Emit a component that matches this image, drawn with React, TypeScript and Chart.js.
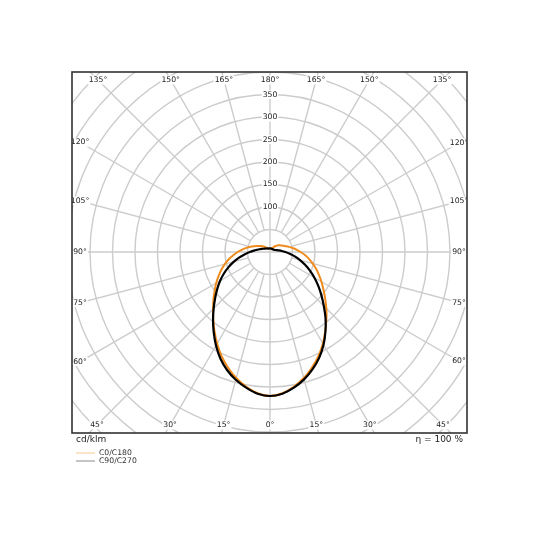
import { useEffect, useRef } from "react";
import { Chart, registerables } from "chart.js";

Chart.register(...registerables);

// Gamma angles (degrees from nadir)
const GAMMA = [0, 5, 10, 15, 20, 25, 30, 35, 40, 45, 50, 55, 60, 65, 70, 75, 80, 85, 90, 95, 100, 105, 110, 115, 120, 125, 130, 135, 140, 145, 150, 155, 160, 165, 170, 175, 180];

// Luminous intensity, cd/klm
const C0 = [320, 315, 304, 290, 273, 255, 235, 214, 195, 177, 160, 145, 132, 120, 109, 98, 88, 78, 68, 59, 51, 44, 38, 33, 29, 26, 23, 19, 16, 13, 10, 9, 8, 8, 8, 8, 8];
const C180 = [320, 315, 304, 290, 273, 255, 235, 215, 196, 179, 164, 150, 138, 126, 115, 104, 93, 82, 72, 62, 53, 45, 38, 32, 27, 23, 19, 16, 13, 11, 9, 8, 8, 8, 8, 8, 8];
const C90 = [320, 316, 306, 293, 277, 259, 238, 215, 192, 169, 149, 131, 114, 98, 83, 69, 56, 44, 34, 26, 20, 16, 13, 11, 10, 9, 9, 9, 8, 8, 8, 8, 8, 8, 8, 8, 8];
const C270 = [320, 316, 306, 294, 279, 261, 240, 218, 197, 177, 159, 143, 128, 113, 98, 83, 69, 56, 45, 36, 29, 24, 20, 17, 15, 13, 12, 11, 10, 10, 9, 9, 8, 8, 8, 8, 8];

const RING_VALUES = [50, 100, 150, 200, 250, 300, 350, 400, 450, 500, 550, 600, 650];
const RING_LABELS = [100, 150, 200, 250, 300, 350];
const ANGLE_TICKS = [0, 15, 30, 45, 60, 75, 90, 105, 120, 135, 150, 165, 180, 195, 210, 225, 240, 255, 270, 285, 300, 315, 330, 345];

const SERIES_NAMES = ["C0/C180", "C90/C270"];
const UNIT_LABEL = "cd/klm";
const EFFICIENCY_LABEL = "η = 100 %";

const FONT = '"DejaVu Sans", sans-serif';

function curve(left: number[], right: number[]) {
  const pts: { x: number; y: number }[] = [];
  for (let i = GAMMA.length - 1; i >= 0; i--) {
    const g = (GAMMA[i] * Math.PI) / 180;
    pts.push({ x: -left[i] * Math.sin(g), y: -left[i] * Math.cos(g) });
  }
  for (let i = 1; i < GAMMA.length; i++) {
    const g = (GAMMA[i] * Math.PI) / 180;
    pts.push({ x: right[i] * Math.sin(g), y: -right[i] * Math.cos(g) });
  }
  return pts;
}

const polarGrid = {
  id: "polarGrid",
  beforeDatasetsDraw(chart: any) {
    const { ctx, chartArea: a, scales } = chart;
    const xs = scales.x;
    const ys = scales.y;
    const cx = xs.getPixelForValue(0);
    const cy = ys.getPixelForValue(0);
    const k = (xs.getPixelForValue(100) - cx) / 100;
    const rp = (v: number) => v * k;
    ctx.save();
    ctx.beginPath();
    ctx.rect(a.left, a.top, a.right - a.left, a.bottom - a.top);
    ctx.clip();
    ctx.strokeStyle = "#cccccc";
    ctx.lineWidth = 1.4;
    for (const r of RING_VALUES) {
      ctx.beginPath();
      ctx.arc(cx, cy, rp(r), 0, Math.PI * 2);
      ctx.stroke();
    }
    for (const d of ANGLE_TICKS) {
      const t = (d * Math.PI) / 180;
      const dx = Math.sin(t);
      const dy = Math.cos(t);
      const r0 = d % 90 === 0 ? 0 : rp(RING_VALUES[0]);
      const r1 = rp(1000);
      ctx.beginPath();
      ctx.moveTo(cx + dx * r0, cy + dy * r0);
      ctx.lineTo(cx + dx * r1, cy + dy * r1);
      ctx.stroke();
    }
    ctx.font = `7.7px ${FONT}`;
    ctx.textAlign = "center";
    ctx.textBaseline = "middle";
    const label = (txt: string, x: number, y: number) => {
      const w = ctx.measureText(txt).width;
      ctx.fillStyle = "#ffffff";
      ctx.fillRect(x - w / 2 - 1, y - 4.5, w + 2, 9);
      ctx.fillStyle = "#222222";
      ctx.fillText(txt, x, y);
    };
    for (const v of RING_LABELS) {
      label(String(v), cx, cy - rp(v));
    }
    const inset = 8;
    const L = a.left + inset;
    const R = a.right - inset;
    const T = a.top + inset;
    const B = a.bottom - inset;
    for (const d of ANGLE_TICKS) {
      const t = (d * Math.PI) / 180;
      const dx = Math.sin(t);
      const dy = Math.cos(t);
      const tx = Math.abs(dx) < 1e-9 ? Infinity : dx > 0 ? (R - cx) / dx : (L - cx) / dx;
      const ty = Math.abs(dy) < 1e-9 ? Infinity : dy > 0 ? (B - cy) / dy : (T - cy) / dy;
      const tt = Math.min(tx, ty);
      const txt = `${d <= 180 ? d : 360 - d}°`;
      label(txt, cx + dx * tt, cy + dy * tt);
    }
    ctx.restore();
  },
  afterDraw(chart: any) {
    const { ctx, chartArea: a } = chart;
    ctx.save();
    ctx.strokeStyle = "#333333";
    ctx.lineWidth = 1.6;
    ctx.strokeRect(a.left, a.top, a.right - a.left, a.bottom - a.top);
    ctx.fillStyle = "#222222";
    ctx.textBaseline = "middle";
    ctx.font = `9px ${FONT}`;
    ctx.textAlign = "left";
    ctx.fillText(UNIT_LABEL, a.left + 4, a.bottom + 7);
    ctx.textAlign = "right";
    ctx.fillText(EFFICIENCY_LABEL, a.right - 4, a.bottom + 7);
    const legendColors = ["#f8c890", "#8a8a8a"];
    ctx.font = `7.7px ${FONT}`;
    ctx.textAlign = "left";
    SERIES_NAMES.forEach((name, i) => {
      const y = a.bottom + 20 + i * 8;
      ctx.strokeStyle = legendColors[i];
      ctx.lineWidth = 1;
      ctx.beginPath();
      ctx.moveTo(a.left + 4, y);
      ctx.lineTo(a.left + 23, y);
      ctx.stroke();
      ctx.fillStyle = "#333333";
      ctx.fillText(name, a.left + 27, y);
    });
    ctx.restore();
  },
};

export default function App() {
  const ref = useRef<HTMLCanvasElement>(null);
  useEffect(() => {
    if (!ref.current) return;
    const chart = new Chart(ref.current, {
      type: "scatter",
      data: {
        datasets: [
          {
            label: SERIES_NAMES[1],
            data: curve(C270, C90),
            showLine: true,
            borderColor: "#000000",
            borderWidth: 2.2,
            pointRadius: 0,
            tension: 0.25,
            order: 0,
          },
          {
            label: SERIES_NAMES[0],
            data: curve(C180, C0),
            showLine: true,
            borderColor: "#f08c1e",
            borderWidth: 2,
            pointRadius: 0,
            tension: 0.25,
            order: 1,
          },
        ],
      },
      options: {
        animation: false,
        responsive: false,
        layout: { padding: { left: 72, top: 72, right: 73, bottom: 107 } },
        scales: {
          x: { type: "linear", min: -440, max: 437.8, display: false },
          y: { type: "linear", min: -402.2, max: 400, display: false },
        },
        plugins: {
          legend: { display: false },
          tooltip: { enabled: false },
        },
      },
      plugins: [polarGrid],
    });
    return () => chart.destroy();
  }, []);
  return (
    <div style={{ position: "absolute", left: 0, top: 0, width: 540, height: 540, background: "#fff" }}>
      <canvas ref={ref} width={540} height={540} style={{ display: "block" }} />
    </div>
  );
}
